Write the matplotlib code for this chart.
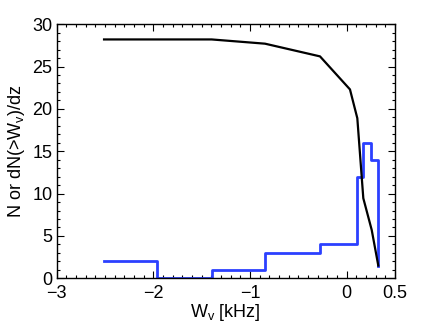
import matplotlib
matplotlib.use("Agg")
import matplotlib.pyplot as plt
from matplotlib.ticker import MultipleLocator, FixedLocator

# cumulative curve N(>W)
cum_w = [-2.51, -1.397, -0.845, -0.276, 0.034, 0.11, 0.172, 0.259, 0.327]
cum_n = [28.2, 28.2, 27.7, 26.2, 22.3, 18.9, 9.45, 5.7, 1.5]

# histogram dN/dz
bin_edges = [-2.51, -1.96, -1.397, -0.845, -0.276, 0.11, 0.172, 0.25, 0.327]
bin_counts = [2, 0, 1, 3, 4, 12, 16, 14]
hist_end = 1.5

plt.rcParams["font.family"] = ["Liberation Sans", "DejaVu Sans"]
plt.rcParams["mathtext.fontset"] = "custom"
plt.rcParams["mathtext.rm"] = "Liberation Sans"
plt.rcParams["mathtext.it"] = "Liberation Sans"

fig = plt.figure(figsize=(4.36, 3.27), dpi=100)
ax = fig.add_axes([0.130, 0.149, 0.776, 0.777])

xs = bin_edges + [bin_edges[-1]]
ys = bin_counts + [bin_counts[-1], hist_end]
ax.step(xs, ys, where="post", color="#2b40ff", lw=2.0)
ax.plot(cum_w, cum_n, color="black", lw=1.6)

ax.set_xlim(-3, 0.5)
ax.set_ylim(0, 30)
ax.xaxis.set_major_locator(FixedLocator([-3, -2, -1, 0, 0.5]))
ax.xaxis.set_minor_locator(MultipleLocator(0.1))
ax.yaxis.set_major_locator(MultipleLocator(5))
ax.yaxis.set_minor_locator(MultipleLocator(1))
ax.set_xticklabels(["\u22123", "\u22122", "\u22121", "0", "0.5"])
ax.tick_params(which="both", direction="in", top=True, right=True, labelsize=13, width=0.8)
ax.tick_params(which="major", length=5)
ax.tick_params(which="minor", length=2.5)
ax.tick_params(axis="x", pad=5)
ax.tick_params(axis="y", pad=3)
for s in ax.spines.values():
    s.set_linewidth(1.0)

ax.set_xlabel(r"W$_{\rm v}$ [kHz]", fontsize=13, labelpad=0)
ax.set_ylabel(r"N or dN(>W$_{\rm v}$)/dz", fontsize=13, labelpad=4)

fig.savefig("out.png", dpi=100)
